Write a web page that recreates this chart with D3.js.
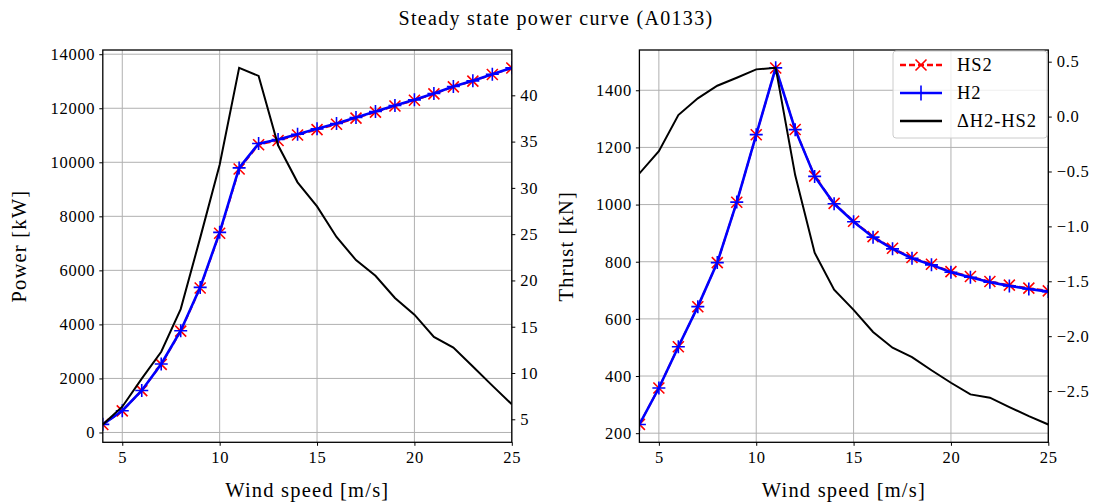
<!DOCTYPE html>
<html>
<head>
<meta charset="utf-8">
<script src="https://cdn.jsdelivr.net/npm/d3@7"></script>
<style>
  body { margin: 0; background: #fff; }
  svg { display: block; }
  text { font-family: "Liberation Serif", "Times New Roman", serif; fill: #000; }
</style>
</head>
<body>
<svg id="chart" width="1105" height="504"></svg>
<script>
// ---------- data ----------
const windSpeed = [4,5,6,7,8,9,10,11,12,13,14,15,16,17,18,19,20,21,22,23,24,25];

const powerH2  = [300,804,1556,2533,3767,5370,7407,9793,10693,10841,11040,11237,11433,11656,11878,12100,12311,12544,12804,13015,13259,13496];
const powerHS2 = [296,798,1547,2521,3750,5346,7375,9750,10651,10806,11009,11209,11408,11634,11857,12082,12295,12530,12791,13004,13250,13489];
const powerDelta = [4.44,6.36,9.4,12.3,16.9,24.6,32.5,42.97,42.1,34.6,30.6,28.0,24.7,22.2,20.5,18.1,16.3,13.9,12.75,10.7,8.64,6.62];

const thrustH2  = [230.5,358,502.5,642.8,797,1008.7,1244.7,1478.5,1262.2,1098.5,1002.8,939.7,886,845,812.4,789,763,745.8,728,715.4,704.8,695.4];
const thrustHS2 = [231.0,358.3,502.5,642.6,796.7,1008.3,1244.3,1478.1,1262.7,1099.7,1004.4,941.5,888,847.1,814.6,791.3,765.4,748.3,730.6,718.0,707.5,698.2];
const thrustDelta = [-0.518,-0.315,0.014,0.166,0.281,0.354,0.430,0.444,-0.533,-1.24,-1.576,-1.76,-1.962,-2.105,-2.19,-2.31,-2.424,-2.53,-2.56,-2.646,-2.728,-2.804];

const xTicks = [5,10,15,20,25];
const powerTicks = [0,2000,4000,6000,8000,10000,12000,14000];
const powerDeltaTicks = [5,10,15,20,25,30,35,40];
const thrustTicks = [200,400,600,800,1000,1200,1400];
const thrustDeltaTicks = [-2.5,-2.0,-1.5,-1.0,-0.5,0.0,0.5];

const legendItems = [
  {label: "HS2", color: "#ff0000", dash: "6,3", marker: "x"},
  {label: "H2", color: "#0000ff", dash: null, marker: "+"},
  {label: "\u0394H2-HS2", color: "#000000", dash: null, marker: null}
];

// ---------- helpers ----------
const svg = d3.select("#chart");
const fmtMinus = s => s.replace("-", "\u2212");

function padded(arrs) {
  const all = arrs.flat();
  const lo = d3.min(all), hi = d3.max(all);
  const m = (hi - lo) * 0.05;
  return [lo - m, hi + m];
}

function marker(g, type, x, y, color, s) {
  if (type === "x") {
    g.append("path").attr("d", `M${x-s},${y-s}L${x+s},${y+s}M${x-s},${y+s}L${x+s},${y-s}`)
      .attr("stroke", color).attr("stroke-width", 1.6).attr("fill", "none");
  } else if (type === "+") {
    g.append("path").attr("d", `M${x-s},${y}L${x+s},${y}M${x},${y-s}L${x},${y+s}`)
      .attr("stroke", color).attr("stroke-width", 1.6).attr("fill", "none");
  }
}

function panel(opts) {
  const {left, right, top, bottom, s1, s2, delta, lTicks, rTicks, lFmt, rFmt, ylabel, ylabelX} = opts;
  const x = d3.scaleLinear().domain([4, 25]).range([left, right]);
  const yL = d3.scaleLinear().domain(padded([s1, s2])).range([bottom, top]);
  const yR = d3.scaleLinear().domain(padded([delta])).range([bottom, top]);

  const g = svg.append("g");
  // grid
  g.append("g").selectAll("line").data(xTicks).join("line")
    .attr("x1", d => x(d)).attr("x2", d => x(d)).attr("y1", top).attr("y2", bottom)
    .attr("stroke", "#b0b0b0").attr("stroke-width", 1);
  g.append("g").selectAll("line").data(lTicks).join("line")
    .attr("y1", d => yL(d)).attr("y2", d => yL(d)).attr("x1", left).attr("x2", right)
    .attr("stroke", "#b0b0b0").attr("stroke-width", 1);

  const clipId = "clip" + Math.round(left);
  svg.append("clipPath").attr("id", clipId).append("rect")
    .attr("x", left).attr("y", top).attr("width", right - left).attr("height", bottom - top);
  const plot = g.append("g").attr("clip-path", `url(#${clipId})`);

  const lineL = d3.line().x((d, i) => x(windSpeed[i])).y(d => yL(d));
  // HS2
  plot.append("path").datum(s2).attr("d", lineL).attr("fill", "none")
    .attr("stroke", "#ff0000").attr("stroke-width", 2).attr("stroke-dasharray", "6,3");
  s2.forEach((d, i) => marker(plot, "x", x(windSpeed[i]), yL(d), "#ff0000", 5.5));
  // H2
  plot.append("path").datum(s1).attr("d", lineL).attr("fill", "none")
    .attr("stroke", "#0000ff").attr("stroke-width", 2.6);
  s1.forEach((d, i) => marker(plot, "+", x(windSpeed[i]), yL(d), "#0000ff", 6.5));
  // delta
  const lineR = d3.line().x((d, i) => x(windSpeed[i])).y(d => yR(d));
  plot.append("path").datum(delta).attr("d", lineR).attr("fill", "none")
    .attr("stroke", "#000").attr("stroke-width", 2);

  // axes
  const ax = g.append("g").attr("transform", `translate(0,${bottom})`)
    .call(d3.axisBottom(x).tickValues(xTicks).tickSize(3.5).tickPadding(5).tickFormat(d3.format("d")));
  const ayL = g.append("g").attr("transform", `translate(${left},0)`)
    .call(d3.axisLeft(yL).tickValues(lTicks).tickSize(3.5).tickPadding(4).tickFormat(lFmt));
  const ayR = g.append("g").attr("transform", `translate(${right},0)`)
    .call(d3.axisRight(yR).tickValues(rTicks).tickSize(3.5).tickPadding(5).tickFormat(rFmt));
  [ax, ayL, ayR].forEach(a => {
    a.select(".domain").remove();
    a.selectAll(".tick line").attr("stroke", "#000").attr("stroke-width", 1);
    a.selectAll(".tick text").style("font-family", "Liberation Serif, serif")
      .style("font-size", "16.5px").style("letter-spacing", "0.7px").attr("fill", "#000");
  });
  // frame
  g.append("rect").attr("x", left).attr("y", top).attr("width", right - left).attr("height", bottom - top)
    .attr("fill", "none").attr("stroke", "#000").attr("stroke-width", 1.3);

  // labels
  svg.append("text").attr("x", (left + right) / 2).attr("y", 497).attr("text-anchor", "middle")
    .style("font-size", "20.5px").style("letter-spacing", "1.2px").text("Wind speed [m/s]");
  svg.append("text").attr("transform", `translate(${ylabelX},${(top + bottom) / 2}) rotate(-90)`)
    .attr("text-anchor", "middle").style("font-size", "20.5px").style("letter-spacing", "1.2px").text(ylabel);
  return {x, yL, yR};
}

panel({left: 102.8, right: 511.8, top: 50, bottom: 442.3,
  s1: powerH2, s2: powerHS2, delta: powerDelta,
  lTicks: powerTicks, rTicks: powerDeltaTicks,
  lFmt: d3.format("d"), rFmt: d3.format("d"),
  ylabel: "Power [kW]", ylabelX: 26});

panel({left: 639.4, right: 1048.3, top: 50, bottom: 442.3,
  s1: thrustH2, s2: thrustHS2, delta: thrustDelta,
  lTicks: thrustTicks, rTicks: thrustDeltaTicks,
  lFmt: d3.format("d"), rFmt: d => fmtMinus(d3.format(".1f")(d)),
  ylabel: "Thrust [kN]", ylabelX: 573});

// title
svg.append("text").attr("x", 556).attr("y", 25).attr("text-anchor", "middle")
  .style("font-size", "20px").style("letter-spacing", "1.3px").text("Steady state power curve (A0133)");

// legend
const lg = svg.append("g").attr("transform", "translate(893,51)");
lg.append("rect").attr("width", 154).attr("height", 87).attr("rx", 3)
  .attr("fill", "#fff").attr("fill-opacity", 0.8).attr("stroke", "#cccccc").attr("stroke-width", 1);
legendItems.forEach((it, i) => {
  const yy = 14 + i * 28;
  lg.append("line").attr("x1", 7).attr("x2", 49).attr("y1", yy).attr("y2", yy)
    .attr("stroke", it.color).attr("stroke-width", 2.4).attr("stroke-dasharray", it.dash);
  if (it.marker) marker(lg, it.marker, 28, yy, it.color, it.marker === "x" ? 5.5 : 7.5);
  lg.append("text").attr("x", 64).attr("y", yy + 6).style("font-size", "18.5px")
    .style("letter-spacing", "0.9px").text(it.label);
});
</script>
</body>
</html>
